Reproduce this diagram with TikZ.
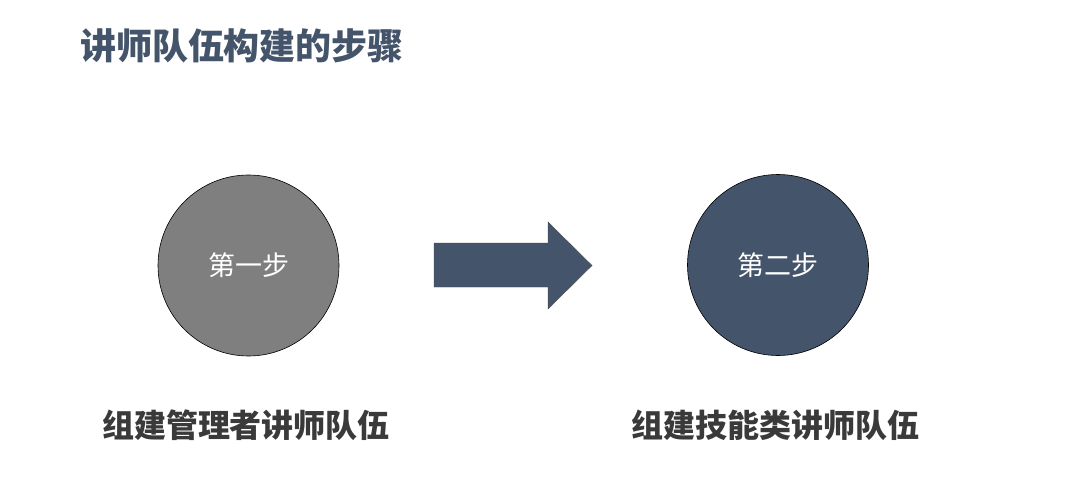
\documentclass[tikz,border=0pt]{standalone}
\usepackage{fontspec}
\newfontfamily\cjk{Noto Sans CJK SC}
\definecolor{slate}{HTML}{44546A}
\definecolor{midgray}{HTML}{7F7F7F}
\definecolor{labelgray}{HTML}{3A3A3A}
\begin{document}
\begin{tikzpicture}[x=1pt,y=-1pt,
  stepcircle/.style={circle, draw=black, line width=0.6pt, minimum size=181pt, inner sep=0pt,
    text=white, font=\cjk\fontsize{27}{30}\selectfont},
  heading/.style={inner sep=0pt, text=slate, font=\cjk\bfseries\fontsize{36}{40}\selectfont},
  steplabel/.style={inner sep=0pt, text=labelgray, font=\cjk\bfseries\fontsize{32}{36}\selectfont}]
\useasboundingbox[fill=white] (0,0) rectangle (1080,484);
\node[heading] (title) at (242,46) {讲师队伍构建的步骤};
\node[stepcircle, fill=midgray] (s1) at (248.5,265.5) {第一步};
\node[stepcircle, fill=slate] (s2) at (778,265) {第二步};
\draw[fill=slate, draw=black!70, line width=0.4pt]
  (434,243) -- (548,243) -- (548,222) -- (592,265.5) -- (548,309) -- (548,287) -- (434,287) -- cycle;
\node[steplabel] (l1) at (246,425) {组建管理者讲师队伍};
\node[steplabel] (l2) at (775,425) {组建技能类讲师队伍};
\end{tikzpicture}
\end{document}
